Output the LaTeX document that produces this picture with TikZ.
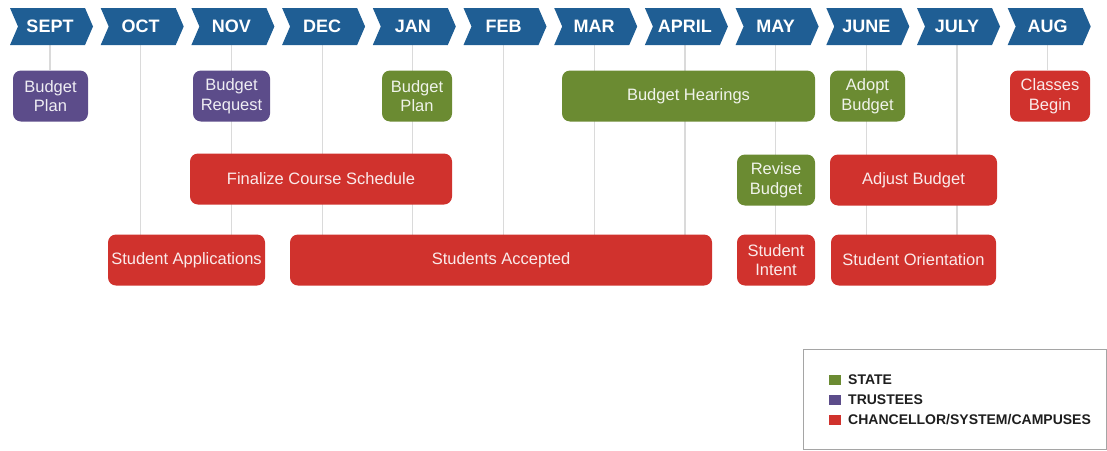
\documentclass[tikz,border=0pt]{standalone}
\usepackage{fontspec}
\setmainfont{Liberation Sans}
\definecolor{chevblue}{RGB}{31,94,148}
\definecolor{trpurple}{RGB}{92,76,138}
\definecolor{stgreen}{RGB}{107,139,50}
\definecolor{chred}{RGB}{208,50,45}
\definecolor{vgray}{RGB}{218,218,218}
\definecolor{legborder}{RGB}{165,165,165}
\definecolor{legtxt}{RGB}{30,30,30}
\pgfdeclarelayer{bg}
\pgfsetlayers{bg,main}
\begin{document}
\begin{tikzpicture}[x=1pt,y=-1pt,
  monthlbl/.style={text=white,font=\fontsize{18}{18}\selectfont\bfseries,inner sep=0pt,minimum height=37pt,minimum width=70pt},
  chev/.style={fill=chevblue},
  vline/.style={draw=vgray,line width=1.2pt},
  box/.style={rounded corners=8pt,minimum height=51pt,inner sep=0pt,align=center,text=white,text opacity=0.9,font=\fontsize{16.5}{19.5}\selectfont},
  trbox/.style={box,fill=trpurple},
  stbox/.style={box,fill=stgreen},
  chbox/.style={box,fill=chred},
  legsq/.style={minimum width=12pt,minimum height=10pt,inner sep=0pt},
  legtext/.style={anchor=west,inner sep=0pt,text=legtxt,font=\fontsize{14}{14}\selectfont\bfseries}
]
\useasboundingbox (0,0) rectangle (1107,450);
% month chevrons
\foreach \m [count=\i from 0] in {SEPT,OCT,NOV,DEC,JAN,FEB,MAR,APRIL,MAY,JUNE,JULY,AUG} {
  \pgfmathsetmacro\cx{50+90.7*\i}
  \fill[chev] (\cx-40,8) -- (\cx+35,8) -- (\cx+43,26.5) -- (\cx+35,45) -- (\cx-40,45) -- (\cx-32,26.5) -- cycle;
  \node[monthlbl] (m\i) at (\cx,26.5) {\m};
}
% row 1
\node[trbox,minimum width=75pt] (bp1) at (50.5,96) {Budget\\Plan};
\node[trbox,minimum width=77pt] (breq) at (231.5,96) {Budget\\Request};
\node[stbox,minimum width=70pt] (bp2) at (417,96) {Budget\\Plan};
\node[stbox,minimum width=253pt] (hear) at (688.5,96) {Budget Hearings};
\node[stbox,minimum width=75pt] (adopt) at (867.5,96) {Adopt\\Budget};
\node[chbox,minimum width=80pt] (classes) at (1050,96) {Classes\\Begin};
% row 2
\node[chbox,minimum width=262pt] (final) at (321,179) {Finalize Course Schedule};
\node[stbox,minimum width=78pt] (revise) at (776,180) {Revise\\Budget};
\node[chbox,minimum width=167pt] (adjust) at (913.5,180) {Adjust Budget};
% row 3
\node[chbox,minimum width=157pt] (apps) at (186.5,260) {Student Applications};
\node[chbox,minimum width=422pt] (acc) at (501,260) {Students Accepted};
\node[chbox,minimum width=78pt] (intent) at (776,260) {Student\\Intent};
\node[chbox,minimum width=165pt] (orient) at (913.5,260) {Student Orientation};
% vertical guide lines
\begin{pgfonlayer}{bg}
  \draw[vline] (m0.south) -- (m0.south |- bp1.north);
  \foreach \i in {1,...,10} {
    \draw[vline] (m\i.south) -- (m\i.south |- acc.center);
  }
  \draw[vline] (m11.south) -- (m11.south |- classes.north);
\end{pgfonlayer}
% legend
\node[draw=legborder,line width=1.2pt,minimum width=303pt,minimum height=100pt,inner sep=0pt,anchor=north west] (legend) at (802.6,348.6) {};
\node[legsq,fill=stgreen] (sq1) at (835,380) {};
\node[legsq,fill=trpurple] (sq2) at (835,400) {};
\node[legsq,fill=chred] (sq3) at (835,420) {};
\node[legtext] (lt1) at (848,380) {STATE};
\node[legtext] (lt2) at (848,400) {TRUSTEES};
\node[legtext] (lt3) at (848,420) {CHANCELLOR/SYSTEM/CAMPUSES};
\end{tikzpicture}
\end{document}
